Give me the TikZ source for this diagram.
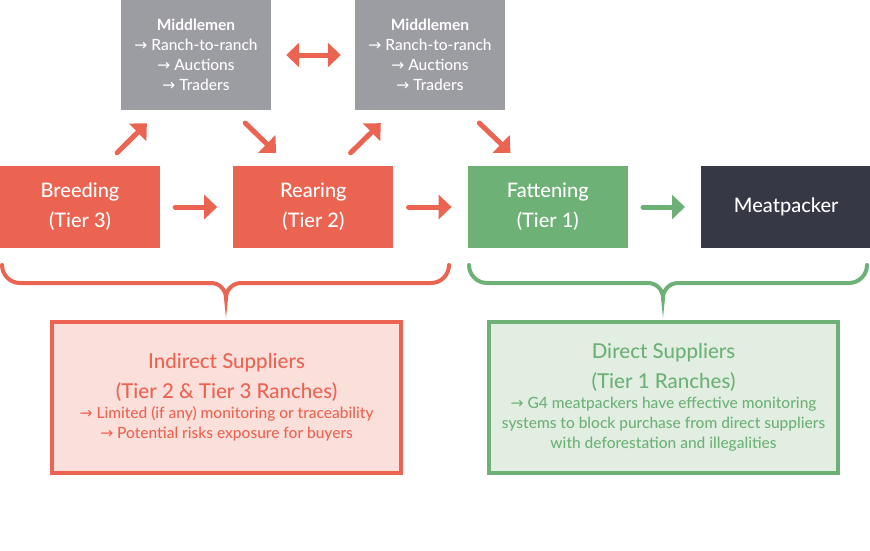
\documentclass[tikz,border=0pt]{standalone}
\usepackage{fontspec}
\setmainfont{Lato}[UprightFont={* Medium},BoldFont={* Bold}]
\newfontfamily\symfont{DejaVu Sans}
\usetikzlibrary{arrows.meta,positioning}
\definecolor{tierred}{HTML}{EB6452}
\definecolor{tiergreen}{HTML}{6DB177}
\definecolor{packer}{HTML}{363846}
\definecolor{midgray}{HTML}{9C9CA3}
\definecolor{redfill}{HTML}{FADFDB}
\definecolor{greenfill}{HTML}{E3EEE3}
\newcommand{\rarr}{{\symfont →}}

\begin{document}
\begin{tikzpicture}[x=1pt,y=1pt]%
  \tikzstyle{stage}=[rectangle,inner sep=0,minimum width=160pt,minimum height=82pt,text=white,align=center,font=\fontsize{20}{30}\selectfont]
  \tikzstyle{midbox}=[rectangle,fill=midgray,inner sep=0,minimum width=150pt,minimum height=110pt,text=white,align=center,font=\fontsize{15.5}{20}\selectfont]
  \tikzstyle{flow}=[line width=5pt,line cap=round,-{Triangle[length=13pt,width=24pt]},shorten <=15pt,shorten >=16pt]
  \tikzstyle{diag}=[flow,tierred,shorten <=18.5pt,shorten >=18.5pt]
  \tikzstyle{curly}=[line width=4pt,line cap=round]
  \tikzstyle{tierbox}=[rectangle,line width=4pt,minimum width=349pt,minimum height=151pt,align=center,font=\fontsize{15.5}{20}\selectfont]
  \useasboundingbox (0,0) rectangle (870,-550);
  % chain of ranches
  \node(breed)[stage,fill=tierred] at (80,-207) {Breeding\\(Tier 3)};
  \node(rear)[stage,fill=tierred,right=73pt of breed] {Rearing\\(Tier 2)};
  \node(fat)[stage,fill=tiergreen,right=74pt of rear] {Fattening\\(Tier 1)};
  \node(meat)[stage,fill=packer,minimum width=170pt,right=73pt of fat] {Meatpacker};
  % middlemen
  \node(mid1)[midbox] at (196,-55) {\textbf{Middlemen}\\\rarr\ Ranch-to-ranch\\\rarr\ Auctions\\\rarr\ Traders};
  \node(mid2)[midbox] at (430,-55) {\textbf{Middlemen}\\\rarr\ Ranch-to-ranch\\\rarr\ Auctions\\\rarr\ Traders};
  \draw[flow,tierred] (breed) -- (rear);
  \draw[flow,tierred] (rear) -- (fat);
  \draw[flow,tiergreen] (fat) -- (meat);
  \draw[flow,tierred,{Triangle[length=13pt,width=24pt]}-{Triangle[length=13pt,width=24pt]},shorten >=14pt] (mid1) -- (mid2);
  \draw[diag] ([xshift=24pt]breed.north) -- ([xshift=-36pt]mid1.south);
  \draw[diag] ([xshift=36pt]mid1.south) -- ([xshift=-24pt]rear.north);
  \draw[diag] ([xshift=24pt]rear.north) -- ([xshift=-36pt]mid2.south);
  \draw[diag] ([xshift=36pt]mid2.south) -- ([xshift=-24pt]fat.north);
  % braces
  \draw[curly,tierred] (2,-265) arc[start angle=180,end angle=270,radius=18pt] -- (211,-283)
    arc[start angle=90,end angle=0,radius=15pt] arc[start angle=180,end angle=90,radius=15pt]
    -- (431,-283) arc[start angle=270,end angle=360,radius=18pt];
  \draw[curly,tiergreen] (469,-265) arc[start angle=180,end angle=270,radius=18pt] -- (648,-283)
    arc[start angle=90,end angle=0,radius=15pt] arc[start angle=180,end angle=90,radius=15pt]
    -- (849,-283) arc[start angle=270,end angle=360,radius=18pt];
  % supplier boxes
  \node(indirect)[tierbox,draw=tierred,fill=redfill,text=tierred] at (226.5,-397.5)
    {{\fontsize{20.5}{30}\selectfont Indirect Suppliers}\\[10pt]
     {\fontsize{20.5}{30}\selectfont (Tier 2 \& Tier 3 Ranches)}\\
     \rarr\ Limited (if any) monitoring or traceability\\
     \rarr\ Potential risks exposure for buyers};
  \node(direct)[tierbox,draw=tiergreen,fill=greenfill,text=tiergreen] at (663.5,-397.5)
    {{\fontsize{20.5}{30}\selectfont Direct Suppliers}\\[10pt]
     {\fontsize{20.5}{30}\selectfont (Tier 1 Ranches)}\\
     \rarr\ G4 meatpackers have effective monitoring\\
     systems to block purchase from direct suppliers\\
     with deforestation and illegalities};
\end{tikzpicture}
\end{document}
